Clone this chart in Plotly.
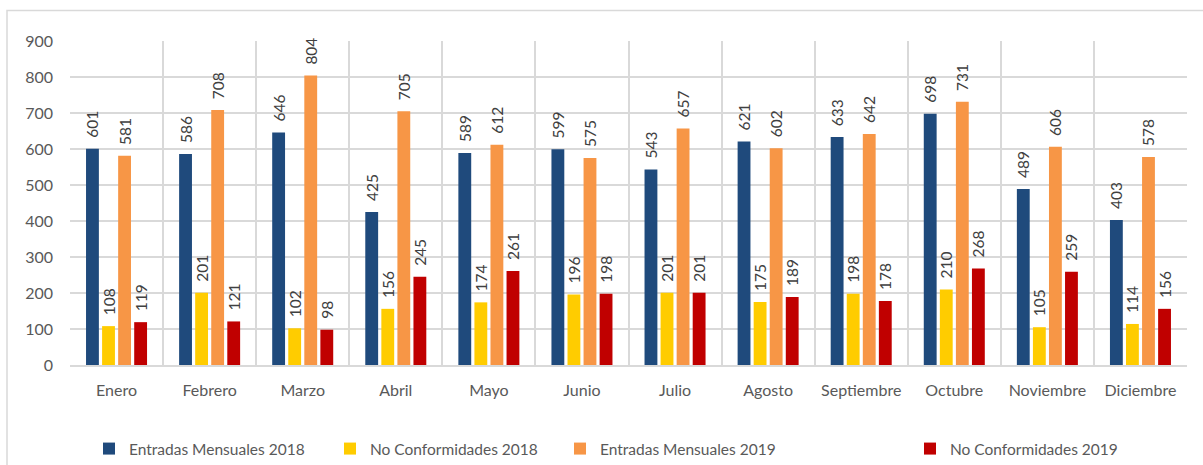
import plotly.graph_objects as go

meses = ["Enero", "Febrero", "Marzo", "Abril", "Mayo", "Junio", "Julio",
         "Agosto", "Septiembre", "Octubre", "Noviembre", "Diciembre"]

entradas_2018 = [601, 586, 646, 425, 589, 599, 543, 621, 633, 698, 489, 403]
no_conf_2018 = [108, 201, 102, 156, 174, 196, 201, 175, 198, 210, 105, 114]
entradas_2019 = [581, 708, 804, 705, 612, 575, 657, 602, 642, 731, 606, 578]
no_conf_2019 = [119, 121, 98, 245, 261, 198, 201, 189, 178, 268, 259, 156]

series = [
    ("Entradas Mensuales 2018", entradas_2018, "#1F4A7C", "legend"),
    ("No Conformidades 2018", no_conf_2018, "#FFCC00", "legend2"),
    ("Entradas Mensuales 2019", entradas_2019, "#F79646", "legend3"),
    ("No Conformidades 2019", no_conf_2019, "#C00000", "legend4"),
]

FONT = "Lato"
GRID = "#D9D9D9"
# leading non-breaking spaces lift the rotated value labels off the bar ends
LABEL_PAD = "\u00a0" * 2

fig = go.Figure()
for name, vals, color, leg in series:
    fig.add_trace(go.Bar(
        x=meses, y=vals, name=name, legend=leg,
        marker=dict(color=color, line=dict(width=0)),
        text=[LABEL_PAD + str(v) for v in vals],
        textposition="outside", textangle=-90,
        constraintext="none", cliponaxis=False,
        textfont=dict(family=FONT, size=15.5, color="#404040"),
    ))

# margins in px -> paper coordinates for the frame and legends
W, H = 1203, 465
ml, mr, mt, mb = 70, 16, 41, 100
pw, ph = W - ml - mr, H - mt - mb

def px_x(p):
    return (p - ml) / pw

def px_y(p):
    return (H - mb - p) / ph

leg_common = dict(orientation="h", yanchor="middle", xanchor="left",
                  y=px_y(449), bgcolor="rgba(0,0,0,0)",
                  font=dict(family=FONT, size=15.5, color="#595959"))
legend_lefts = [89, 330, 560, 910]

fig.update_layout(
    width=W, height=H, autosize=False,
    margin=dict(l=ml, r=mr, t=mt, b=mb, autoexpand=False),
    paper_bgcolor="white", plot_bgcolor="white",
    barmode="group", bargap=0.31, bargroupgap=0.2,
    showlegend=True,
    legend=dict(x=px_x(legend_lefts[0]), **leg_common),
    legend2=dict(x=px_x(legend_lefts[1]), **leg_common),
    legend3=dict(x=px_x(legend_lefts[2]), **leg_common),
    legend4=dict(x=px_x(legend_lefts[3]), **leg_common),
    xaxis=dict(
        tickson="boundaries", showgrid=True, gridcolor=GRID, gridwidth=1.5,
        ticks="", showline=True, linecolor=GRID, linewidth=1.5,
        tickfont=dict(family=FONT, size=16, color="#595959"),
        ticklabelstandoff=10, automargin=False,
    ),
    yaxis=dict(
        range=[0, 900], dtick=100, showgrid=True, gridcolor=GRID, gridwidth=1.5,
        zeroline=False, ticks="", showline=False,
        tickfont=dict(family=FONT, size=16, color="#595959"),
        ticklabelstandoff=16, automargin=False,
    ),
    shapes=[dict(
        type="rect", xref="paper", yref="paper", layer="below",
        x0=px_x(7), x1=px_x(W + 10), y0=px_y(H + 10), y1=px_y(10.5),
        line=dict(color="#D9D9D9", width=1.5), fillcolor="rgba(0,0,0,0)",
    )],
)

fig.write_html("out.html")
